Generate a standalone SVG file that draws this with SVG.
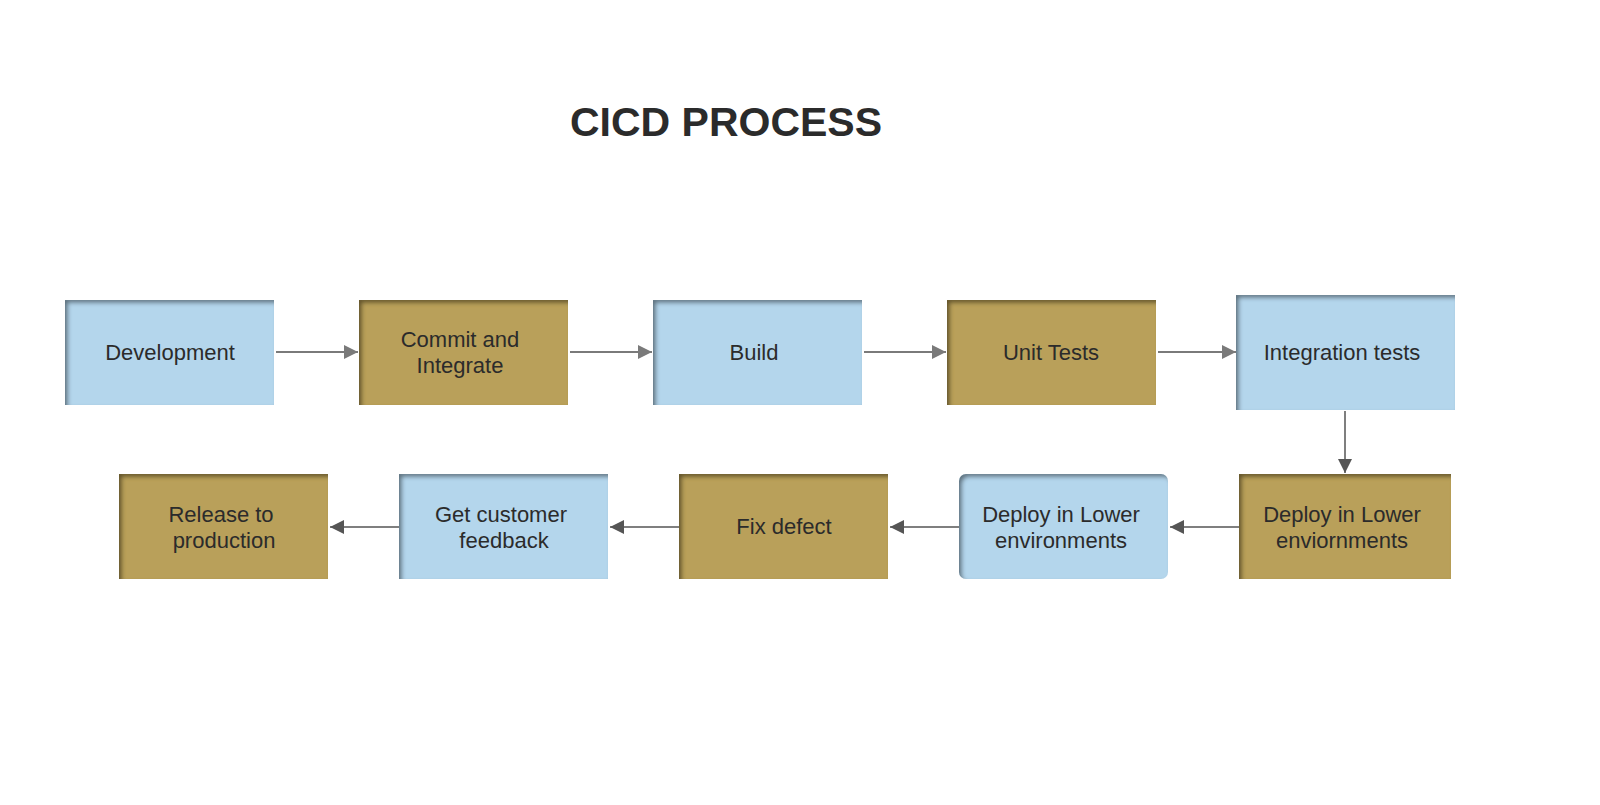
<svg xmlns="http://www.w3.org/2000/svg" width="1600" height="805" viewBox="0 0 1600 805">
<defs>
<filter id="inset" x="-5%" y="-5%" width="110%" height="110%">
<feFlood flood-color="#000" flood-opacity="0.75" result="f"/>
<feComposite in="f" in2="SourceAlpha" operator="out" result="inv"/>
<feOffset in="inv" dx="2.5" dy="2.5" result="off"/>
<feGaussianBlur in="off" stdDeviation="2" result="bl"/>
<feComposite in="bl" in2="SourceAlpha" operator="in" result="sh"/>
<feMerge><feMergeNode in="SourceGraphic"/><feMergeNode in="sh"/></feMerge>
</filter>
<marker id="a1" viewBox="0 0 10 10" refX="10" refY="5" markerWidth="14" markerHeight="14" markerUnits="userSpaceOnUse" orient="auto"><path d="M0,0 L10,5 L0,10 z" fill="#7a7a7a"/></marker>
<marker id="a2" viewBox="0 0 10 10" refX="10" refY="5" markerWidth="14" markerHeight="14" markerUnits="userSpaceOnUse" orient="auto"><path d="M0,0 L10,5 L0,10 z" fill="#555"/></marker>
</defs>
<style>
.b{fill:#b4d6ec;filter:url(#inset)}
.g{fill:#b9a05a;filter:url(#inset)}
text{font-family:"Liberation Sans",Arial,sans-serif;font-size:22px;fill:#2b2b2b;text-anchor:middle}
.l1{stroke:#7a7a7a;stroke-width:2;fill:none;marker-end:url(#a1)}
.l2{stroke:#555;stroke-width:1.5;fill:none;marker-end:url(#a2)}
</style>
<rect width="1600" height="805" fill="#fff"/>
<text x="726" y="136" style="font-size:41px;font-weight:bold;fill:#2b2b2b">CICD PROCESS</text>
<g id="connectors">
<line class="l1" x1="276" y1="352" x2="358" y2="352"/>
<line class="l1" x1="570" y1="352" x2="652" y2="352"/>
<line class="l1" x1="864" y1="352" x2="946" y2="352"/>
<line class="l1" x1="1158" y1="352" x2="1236" y2="352"/>
<line class="l2" x1="1345" y1="411" x2="1345" y2="473"/>
<line class="l2" x1="1239" y1="527" x2="1170" y2="527"/>
<line class="l2" x1="959" y1="527" x2="890" y2="527"/>
<line class="l2" x1="679" y1="527" x2="610" y2="527"/>
<line class="l2" x1="399" y1="527" x2="330" y2="527"/>
</g>
<g id="n1"><rect class="b" x="65" y="300" width="209" height="105"/><text x="170" y="360">Development</text></g>
<g id="n2"><rect class="g" x="359" y="300" width="209" height="105"/><text x="460" y="347">Commit and</text><text x="460" y="373">Integrate</text></g>
<g id="n3"><rect class="b" x="653" y="300" width="209" height="105"/><text x="754" y="360">Build</text></g>
<g id="n4"><rect class="g" x="947" y="300" width="209" height="105"/><text x="1051" y="360">Unit Tests</text></g>
<g id="n5"><rect class="b" x="1236" y="295" width="219" height="115"/><text x="1342" y="360">Integration tests</text></g>
<g id="n6"><rect class="g" x="1239" y="474" width="212" height="105"/><text x="1342" y="522">Deploy in Lower</text><text x="1342" y="548">enviornments</text></g>
<g id="n7"><rect class="b" x="959" y="474" width="209" height="105" rx="7"/><text x="1061" y="522">Deploy in Lower</text><text x="1061" y="548">environments</text></g>
<g id="n8"><rect class="g" x="679" y="474" width="209" height="105"/><text x="784" y="534">Fix defect</text></g>
<g id="n9"><rect class="b" x="399" y="474" width="209" height="105"/><text x="501" y="522">Get customer</text><text x="504" y="548">feedback</text></g>
<g id="n10"><rect class="g" x="119" y="474" width="209" height="105"/><text x="221" y="522">Release to</text><text x="224" y="548">production</text></g>
</svg>
